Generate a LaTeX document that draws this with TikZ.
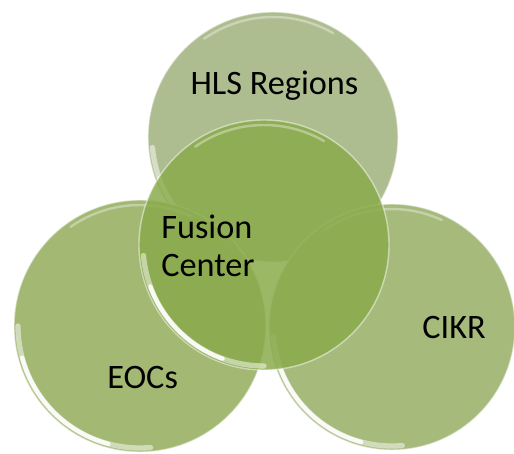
\documentclass[tikz,border=0pt]{standalone}
\usepackage{fontspec}
\setmainfont{Carlito}
\usepackage{tikz}
\usetikzlibrary{calc}
\definecolor{hlsGreen}{HTML}{AEBD8F}
\definecolor{eocGreen}{HTML}{A2B873}
\definecolor{cikrGreen}{HTML}{A6BA7C}
\definecolor{fusionGreen}{HTML}{8AAB4C}
\tikzset{
  disc/.style={circle, inner sep=0pt, draw=white, draw opacity=0.5, line width=0.8pt},
  rim/.style={white, line width=3pt, opacity=0.5, line cap=round},
  rimcore/.style={white, line width=2.4pt, opacity=0.9, line cap=round},
  shine/.style={white, line width=1.4pt, opacity=0.35, line cap=round},
  lbl/.style={font=\fontsize{19.5}{21.5}\selectfont, text=black, inner sep=0pt}
}

\begin{document}
\begin{tikzpicture}
        \useasboundingbox (0,0) rectangle (10.28,9.06);
        % the four discs with their glossy edges, fusion center on top
        \node[disc, fill=hlsGreen, minimum size=5cm] (hls) at (5.46,6.32) {};
        \draw[rim] ($(hls.center)+(185:2.42)$) arc (185:255:2.42);
        \draw[rimcore] ($(hls.center)+(200:2.42)$) arc (200:240:2.42);
        \draw[shine] ($(hls.center)+(60:2.40)$) arc (60:125:2.40);
        \node[disc, fill=eocGreen, minimum size=5.04cm] (eoc) at (2.80,2.54) {};
        \draw[rim] ($(eoc.center)+(180:2.44)$) arc (180:275:2.44);
        \draw[rimcore] ($(eoc.center)+(195:2.44)$) arc (195:255:2.44);
        \draw[shine] ($(eoc.center)+(65:2.42)$) arc (65:125:2.42);
        \node[disc, fill=cikrGreen, minimum size=4.92cm] (cikr) at (7.84,2.52) {};
        \draw[rim] ($(cikr.center)+(185:2.38)$) arc (185:275:2.38);
        \draw[rimcore] ($(cikr.center)+(200:2.38)$) arc (200:255:2.38);
        \draw[shine] ($(cikr.center)+(65:2.36)$) arc (65:125:2.36);
        \node[disc, fill=fusionGreen, fill opacity=0.85, minimum size=5cm] (fusion) at (5.28,4.16) {};
        \draw[rim] ($(fusion.center)+(185:2.42)$) arc (185:270:2.42);
        \draw[rimcore] ($(fusion.center)+(200:2.42)$) arc (200:250:2.42);
        \draw[shine] ($(fusion.center)+(60:2.40)$) arc (60:125:2.40);
        % labels
        \node[lbl, anchor=base] (hlsText) at (5.49,7.16) {HLS Regions};
        \node[lbl, anchor=north west, align=left] (fusionText) at (3.22,4.76) {Fusion\\Center};
        \node[lbl, anchor=base west] (eocText) at (2.14,1.30) {EOCs};
        \node[lbl, anchor=base west] (cikrText) at (8.44,2.30) {CIKR};
      \end{tikzpicture}
\end{document}
